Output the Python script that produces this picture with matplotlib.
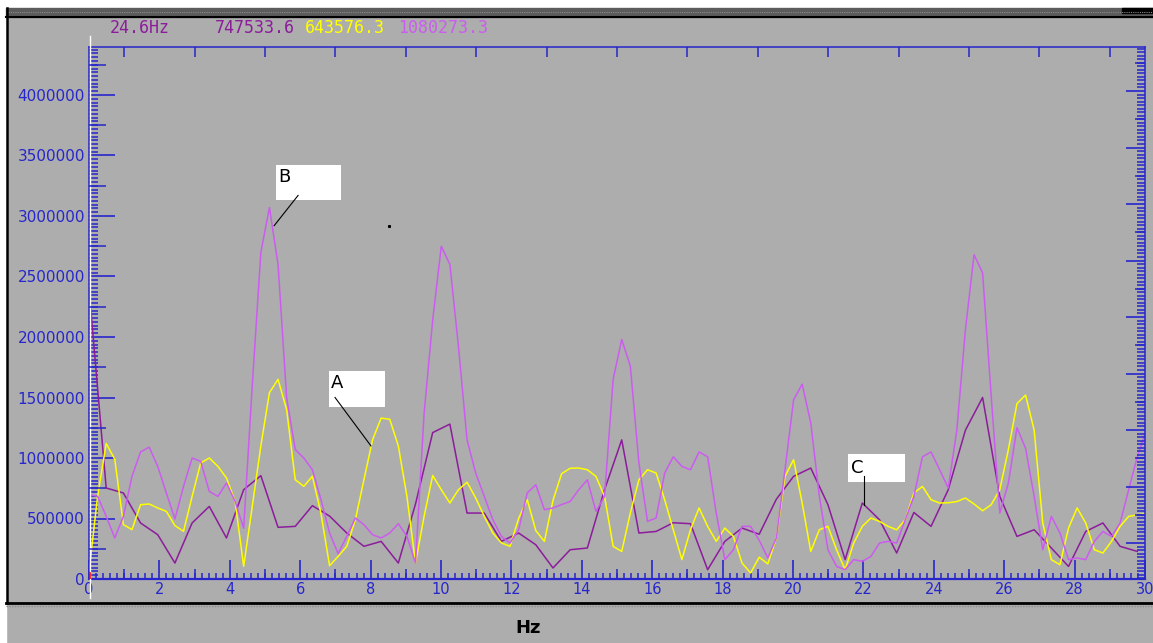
import numpy as np
import matplotlib
matplotlib.use("Agg")
import matplotlib.pyplot as plt
from matplotlib.patches import Rectangle
from matplotlib.ticker import MultipleLocator

# espectros (bins de 0.244 Hz, el morado oscuro cada 2 bins)
df = 0.2441
amarillo = [60000, 683000, 1120000, 990000, 450000, 408000, 614000, 620000, 587000, 559000,
            441000, 394000, 683000, 959000, 1000000, 931000, 835000, 642000, 105000, 600000,
            1100000, 1540000, 1650000, 1400000, 821000, 766000, 849000, 540000, 110000, 187000,
            270000, 490000, 821000, 1150000, 1330000, 1320000, 1100000, 683000, 132000, 518000,
            855000, 738000, 628000, 738000, 800000, 670000, 518000, 380000, 298000, 270000,
            500000, 656000, 400000, 311000, 650000, 870000, 915000, 917000, 903000, 848000,
            683000, 270000, 228000, 545000, 820000, 903000, 876000, 655000, 407000, 160000,
            407000, 587000, 435000, 311000, 421000, 352000, 132000, 50000, 180000, 125000,
            340000, 848000, 986000, 628000, 228000, 407000, 435000, 242000, 77000, 297000,
            435000, 504000, 476000, 435000, 407000, 490000, 711000, 765000, 655000, 628000,
            630000, 640000, 669000, 620000, 564000, 614000, 738000, 1070000, 1450000, 1520000,
            1230000, 463000, 160000, 118000, 421000, 587000, 463000, 242000, 215000, 311000,
            435000, 517000, 530000, 540000]
magenta = [700000, 683000, 518000, 339000, 517000, 848000, 1050000, 1090000, 931000, 711000,
           496000, 766000, 1000000, 972000, 724000, 683000, 793000, 642000, 421000, 1600000,
           2700000, 3070000, 2600000, 1500000, 1070000, 1000000, 903000, 655000, 380000, 209000,
           353000, 504000, 449000, 366000, 339000, 380000, 457000, 353000, 132000, 1370000,
           2140000, 2750000, 2600000, 1920000, 1150000, 876000, 683000, 490000, 352000, 297000,
           407000, 711000, 779000, 573000, 587000, 615000, 641000, 738000, 820000, 559000,
           683000, 1650000, 1980000, 1760000, 959000, 476000, 504000, 876000, 1010000, 931000,
           903000, 1050000, 1010000, 545000, 160000, 242000, 435000, 435000, 320000, 174000,
           340000, 903000, 1480000, 1610000, 1290000, 683000, 242000, 104000, 77000, 160000,
           146000, 187000, 297000, 311000, 297000, 490000, 683000, 1010000, 1050000, 903000,
           752000, 1230000, 2060000, 2680000, 2530000, 1510000, 545000, 793000, 1250000, 1080000,
           683000, 242000, 517000, 380000, 160000, 174000, 160000, 311000, 393000, 352000,
           463000, 738000, 1010000, 1220000]
morado = [2400000, 752000, 711000, 463000, 366000, 132000, 463000, 600000, 339000, 738000,
          854000, 427000, 435000, 606000, 520000, 380000, 270000, 311000, 132000, 620000,
          1210000, 1280000, 545000, 545000, 311000, 380000, 283000, 91000, 242000, 256000,
          738000, 1150000, 380000, 393000, 465000, 457000, 77000, 311000, 421000, 370000,
          660000, 848000, 917000, 614000, 160000, 628000, 490000, 215000, 550000, 435000,
          738000, 1230000, 1500000, 683000, 352000, 407000, 256000, 104000, 393000, 463000,
          270000, 228000]

lectura = ["24.6Hz", "747533.6", "643576.3", "1080273.3"]
yticks = [0, 500000, 1000000, 1500000, 2000000, 2500000, 3000000, 3500000, 4000000]

gris = "#ADADAD"
azul = "#2626CC"
c_morado = "#8C1C9C"
c_amarillo = "#FFFF00"
c_magenta = "#CC5CF0"

f_am = np.arange(len(amarillo)) * df
f_mg = np.arange(len(magenta)) * df
f_mo = np.arange(len(morado)) * 2 * df

W, H = 1153, 643
fig = plt.figure(figsize=(W / 100, H / 100), dpi=100, facecolor=gris)

# marco de la ventana
bg = fig.add_axes([0, 0, 1, 1], zorder=-5)
bg.set_xlim(0, W)
bg.set_ylim(H, 0)
bg.axis("off")
bg.add_patch(Rectangle((0, 0), W, 8, color="white"))
bg.add_patch(Rectangle((0, 0), 6, H, color="white"))
bg.add_patch(Rectangle((6, 8), W, 9, color="#5C5C5C"))
bg.plot([6, W], [12, 12], color="#8A8A8A", lw=0.8, ls=(0, (1, 1)))
bg.plot([6, W], [17, 17], color="black", lw=1.5)
bg.plot([6.5, 6.5], [8, 603], color="black", lw=1.8)
bg.plot([6, W], [603, 603], color="black", lw=2)
bg.plot([6, W], [606, 606], color="#8A8A8A", lw=1, ls=(0, (1, 1)))
bg.add_patch(Rectangle((1122, 8), 31, 5, color="black"))

x0, x1, y0, y1 = 89, 1145, 47, 579
ax = fig.add_axes([x0 / W, 1 - y1 / H, (x1 - x0) / W, (y1 - y0) / H])
ax.set_facecolor(gris)
ymax = (y1 - y0) / 60.5 * 500000
ax.set_xlim(0, 30)
ax.set_ylim(0, ymax)

ax.plot(f_mo, morado, color=c_morado, lw=1.1)
ax.plot(f_am, amarillo, color=c_amarillo, lw=1.1)
ax.plot(f_mg, magenta, color=c_magenta, lw=1.1)

for s in ax.spines.values():
    s.set_color(azul)
    s.set_linewidth(1.1)
ax.spines["bottom"].set_linewidth(1.6)

ax.set_yticks(yticks)
ax.set_yticklabels([str(v) for v in yticks])
ax.yaxis.set_minor_locator(MultipleLocator(31250))
ax.set_xticks(np.arange(0, 31, 2))
ax.xaxis.set_minor_locator(MultipleLocator(0.2))
ax.tick_params(axis="y", which="major", direction="in", length=18.5, width=1.2,
               color=azul, labelcolor=azul, labelsize=11, pad=3)
ax.tick_params(axis="y", which="minor", direction="in", length=6.5, width=1.1, color=azul)
ax.tick_params(axis="x", which="major", direction="in", length=13.5, width=1.2,
               color=azul, labelcolor=azul, labelsize=10.5, pad=2, top=True)
ax.tick_params(axis="x", which="minor", direction="in", length=4.5, width=1.1,
               color=azul, top=True)

# marcas intermedias
ax2 = ax.twinx()
ax2.set_ylim(0, ymax)
ax2.yaxis.set_ticks_position("left")
ax2.set_yticks(np.arange(250000, ymax, 500000))
ax2.tick_params(axis="y", direction="in", length=12, width=1.1, color=azul,
                labelleft=False, labelright=False)
ax3 = ax.twiny()
ax3.set_xlim(0, 30)
ax3.xaxis.set_ticks_position("both")
ax3.set_xticks(np.arange(1, 30, 2))
ax3.tick_params(axis="x", direction="in", length=7, width=1.1, color=azul,
                labeltop=False, labelbottom=False)

# eje derecho con su propia escala
ax4 = ax.twinx()
ax4.set_ylim(-0.637, -0.637 + (y1 - y0) / 56.5)
ax4.set_yticks(range(0, 9))
ax4.yaxis.set_minor_locator(MultipleLocator(1 / 16))
ax4.tick_params(axis="y", which="major", direction="in", length=14, width=1.2,
                color=azul, labelright=False)
ax4.tick_params(axis="y", which="minor", direction="in", length=5.5, width=1.1, color=azul)
ax5 = ax.twinx()
ax5.set_ylim(ax4.get_ylim())
ax5.set_yticks(np.arange(0.5, 8.6, 1))
ax5.tick_params(axis="y", direction="in", length=7.5, width=1.1, color=azul, labelright=False)
for a in (ax2, ax3, ax4, ax5):
    for s in a.spines.values():
        s.set_visible(False)

ax.axvline(0.035, ymin=-0.035, ymax=1.02, color="white", lw=1, clip_on=False, zorder=4)
ax.axvline(0.035, ymin=0, ymax=0.012, color="red", lw=1.2, zorder=5)

# recuadros A, B, C
cajas = [("B", 5.31, 3.13e6, 1.85, 0.29e6, 5.54, 3.32e6, (5.94, 3.17e6), (5.26, 2.92e6)),
         ("A", 6.82, 1.42e6, 1.59, 0.30e6, 7.05, 1.62e6, (6.99, 1.50e6), (8.01, 1.10e6)),
         ("C", 21.56, 0.80e6, 1.62, 0.23e6, 21.82, 0.92e6, (22.02, 0.854e6), (22.02, 0.614e6))]
for letra, bx, by, bw, bh, tx, ty, p0, p1 in cajas:
    ax.add_patch(Rectangle((bx, by), bw, bh, facecolor="white", edgecolor="none", zorder=6))
    ax.text(tx, ty, letra, color="black", fontsize=13, ha="center", va="center", zorder=7)
    ax.plot([p0[0], p1[0]], [p0[1], p1[1]], color="black", lw=0.8, zorder=7)
ax.plot([8.52], [2.92e6], marker="s", ms=1.2, color="black")

colores = [c_morado, c_morado, c_amarillo, c_magenta]
xs = [110, 215, 305, 398]
for t, c, x in zip(lectura, colores, xs):
    fig.text(x / W, 1 - 28 / H, t, color=c, fontsize=12, family="DejaVu Sans Mono", va="center")

fig.text(528 / W, 1 - 628 / H, "Hz", fontsize=13, fontweight="bold", ha="center", va="center")

fig.savefig("out.png", dpi=100, facecolor=fig.get_facecolor())
